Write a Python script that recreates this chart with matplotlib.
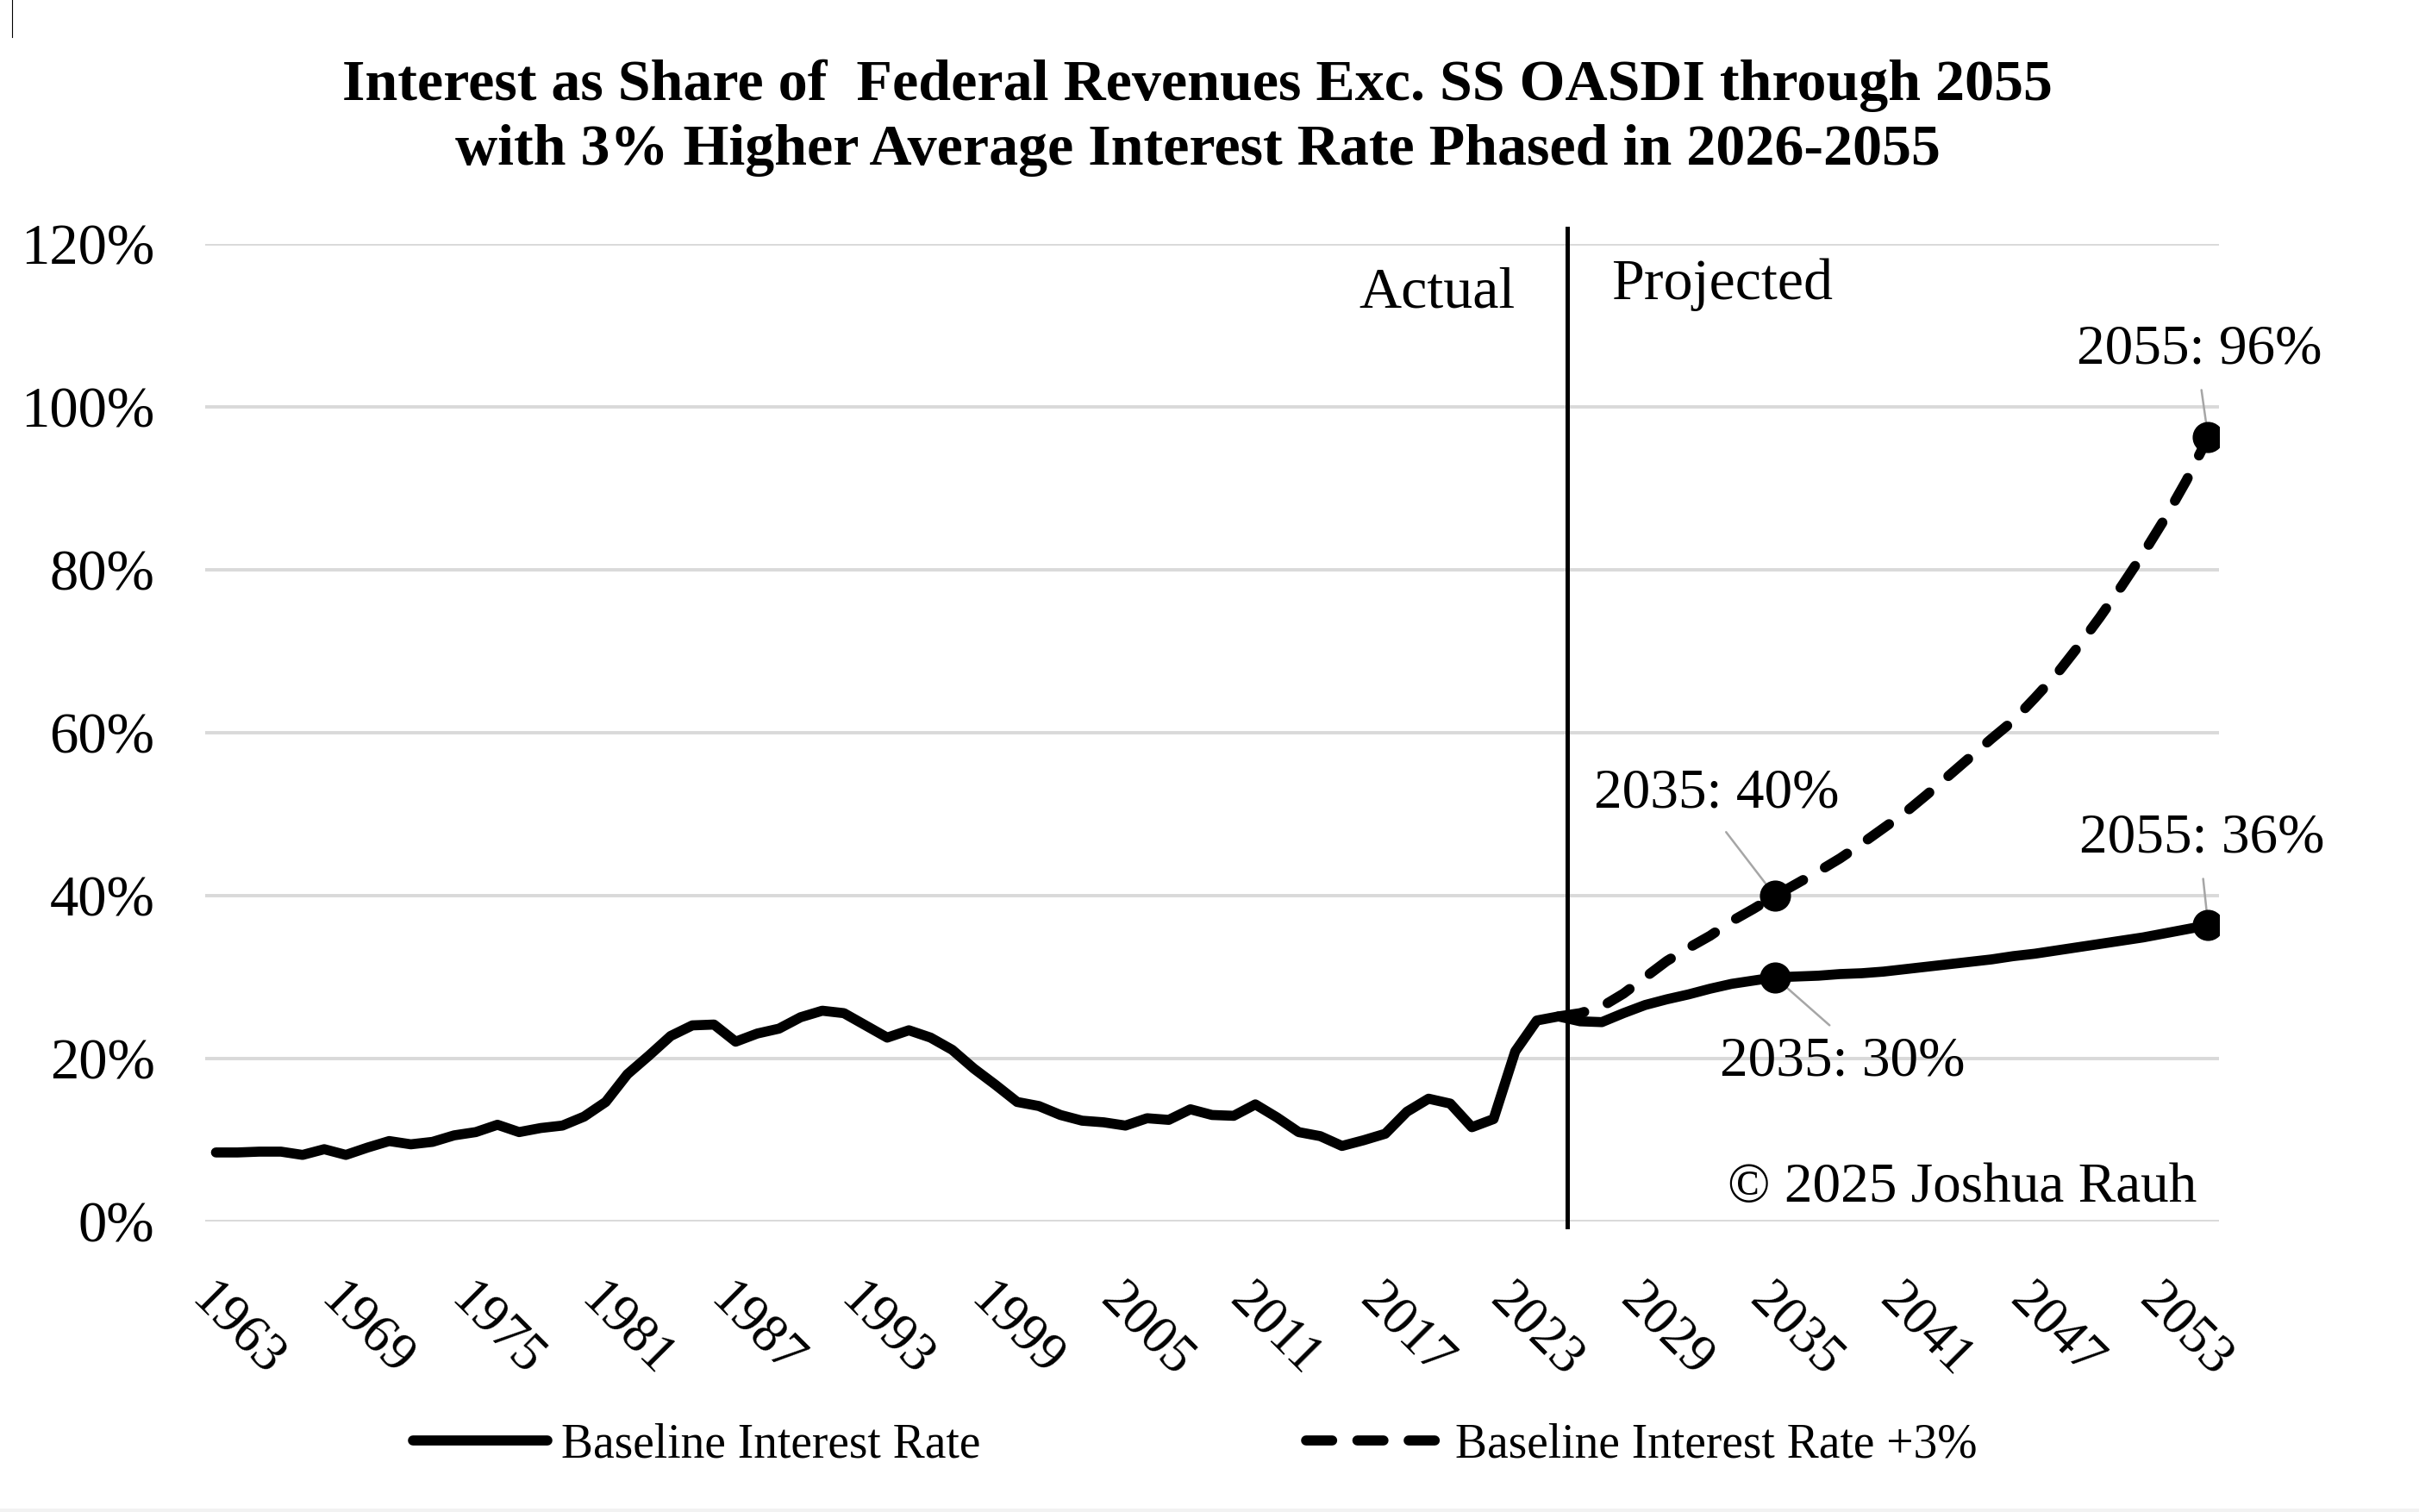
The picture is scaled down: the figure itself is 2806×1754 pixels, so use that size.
import matplotlib
matplotlib.use('Agg')
import matplotlib.pyplot as plt
from matplotlib.lines import Line2D
from matplotlib.patches import Rectangle
import numpy as np

plt.rcParams['font.family'] = ['Liberation Serif', 'DejaVu Serif']

# 数据
years = list(range(1963, 2056))
baseline = [
    8.5, 8.5, 8.6, 8.6, 8.2, 8.9, 8.2, 9.1, 9.9, 9.5,          # 1963-1972
    9.8, 10.6, 11.0, 11.9, 11.0, 11.5, 11.8, 12.9, 14.7, 18.1,  # 1973-1982
    20.4, 22.8, 24.1, 24.2, 22.1, 23.1, 23.7, 25.1, 25.9, 25.6, # 1983-1992
    24.1, 22.6, 23.5, 22.6, 21.1, 18.8, 16.8, 14.7, 14.2, 13.1, # 1993-2002
    12.4, 12.2, 11.8, 12.7, 12.5, 13.8, 13.1, 13.0, 14.4, 12.8, # 2003-2012
    11.0, 10.5, 9.3, 10.0, 10.8, 13.5, 15.1, 14.5, 11.6, 12.6,  # 2013-2022
    20.9, 24.7, 25.2, 24.6, 24.5, 25.6, 26.6, 27.3, 27.9, 28.6, # 2023-2032
    29.2, 29.6, 30.0, 30.1, 30.2, 30.4, 30.5, 30.7, 31.0, 31.3, # 2033-2042
    31.6, 31.9, 32.2, 32.6, 32.9, 33.3, 33.7, 34.1, 34.5, 34.9, # 2043-2052
    35.4, 35.9, 36.4,                                           # 2053-2055
]
high_years = list(range(2025, 2056))
high_rate = [
    25.2, 25.6, 26.4, 28.0, 30.0, 32.0, 33.6, 35.1, 36.9, 38.4, # 2025-2034
    40.0, 41.5, 43.0, 44.6, 46.4, 48.3, 50.2, 52.4, 54.7, 57.0, # 2035-2044
    59.3, 61.5, 64.3, 67.2, 70.6, 74.2, 78.0, 82.0, 86.3, 91.0, # 2045-2054
    96.3,                                                       # 2055
]
y_ticks = [0, 20, 40, 60, 80, 100, 120]
x_tick_years = years[::6]
divider_year = 2025.4

title = ('Interest as Share of  Federal Revenues Exc. SS OASDI through 2055\n'
         'with 3% Higher Average Interest Rate Phased in 2026-2055')

# 画图
fig = plt.figure(figsize=(14.03, 8.77), dpi=200)
ax = fig.add_axes([0.0848, 0.192, 0.8325, 0.6465])

ax.plot(years, baseline, color='black', lw=4.2, solid_capstyle='round',
        solid_joinstyle='round', label='Baseline Interest Rate', zorder=3)
ax.plot(high_years, high_rate, color='black', lw=4.2, dashes=(2.6, 2.5),
        dash_capstyle='round', label='Baseline Interest Rate +3%', zorder=3)

# 标记点 2035 / 2055
i35 = years.index(2035)
j35 = high_years.index(2035)
ax.plot([2035, 2055], [baseline[i35], baseline[-1]], 'o', color='black', ms=12, zorder=4)
ax.plot([2035, 2055], [high_rate[j35], high_rate[-1]], 'o', color='black', ms=12, zorder=4)

lead = dict(arrowstyle='-', color='#A6A6A6', lw=0.9, shrinkB=0)
fs_note = 23.5
ax.annotate(f'2055: {high_rate[-1]:.0f}%', xy=(2055, high_rate[-1]), xytext=(2054.6, 107.0),
            ha='center', va='center', fontsize=fs_note,
            arrowprops=dict(lead, relpos=(0.5, 0), shrinkA=4), annotation_clip=False)
ax.annotate(f'2035: {high_rate[j35]:.0f}%', xy=(2035, high_rate[j35]), xytext=(2032.3, 52.5),
            ha='center', va='center', fontsize=fs_note,
            arrowprops=dict(lead, relpos=(0.5, 0), shrinkA=4))
ax.annotate(f'2035: {baseline[i35]:.0f}%', xy=(2035, baseline[i35]), xytext=(2038.1, 19.6),
            ha='center', va='center', fontsize=fs_note,
            arrowprops=dict(lead, relpos=(0.5, 1), shrinkA=4))
ax.annotate(f'2055: {baseline[-1]:.0f}%', xy=(2055, baseline[-1]), xytext=(2054.7, 47.0),
            ha='center', va='center', fontsize=fs_note,
            arrowprops=dict(lead, relpos=(0.5, 0), shrinkA=4), annotation_clip=False)

# 实际 / 预测 分界线
ax.plot([divider_year, divider_year], [-0.6, 121.9], color='black', lw=1.8,
        clip_on=False, zorder=2)
ax.text(2023.0, 112.2, 'Actual', ha='right', va='baseline', fontsize=24.5)
ax.text(2027.45, 113.3, 'Projected', ha='left', va='baseline', fontsize=24.5)
ax.text(2054.5, 2.5, '© 2025 Joshua Rauh', ha='right', va='baseline', fontsize=23.5)

# 坐标轴
ax.set_xlim(1962.5, 2055.5)
ax.set_ylim(0, 120)
ax.set_yticks(y_ticks)
ax.set_yticklabels([f'{v}%' for v in y_ticks], fontsize=24)
ax.set_xticks(x_tick_years)
ax.set_xticklabels([str(y) for y in x_tick_years], fontsize=22.5, rotation=-45,
                   rotation_mode='anchor', ha='left', va='top')
ax.tick_params(axis='both', length=0)
ax.tick_params(axis='y', pad=21)
ax.tick_params(axis='x', pad=22)
for s in ax.spines.values():
    s.set_visible(False)
ax.yaxis.grid(True, color='#D9D9D9', lw=1.4)
ax.set_axisbelow(True)

fig.text(0.495, 0.922, title, ha='center', va='center', fontsize=24.5,
         fontweight='bold', linespacing=1.3)

fig.legend(loc='center', bbox_to_anchor=(0.494, 0.044), ncol=2, frameon=False,
           fontsize=20, handlelength=2.8, handletextpad=0.3, columnspacing=6.8)

# 边缘细节
fig.add_artist(Line2D([0.005, 0.005], [1.0, 0.9755], color='black', lw=0.4))
fig.add_artist(Rectangle((0, 0), 1, 4 / 1754, color='#F2F2F2', lw=0))

plt.savefig('out.png', dpi=200)
plt.close()
